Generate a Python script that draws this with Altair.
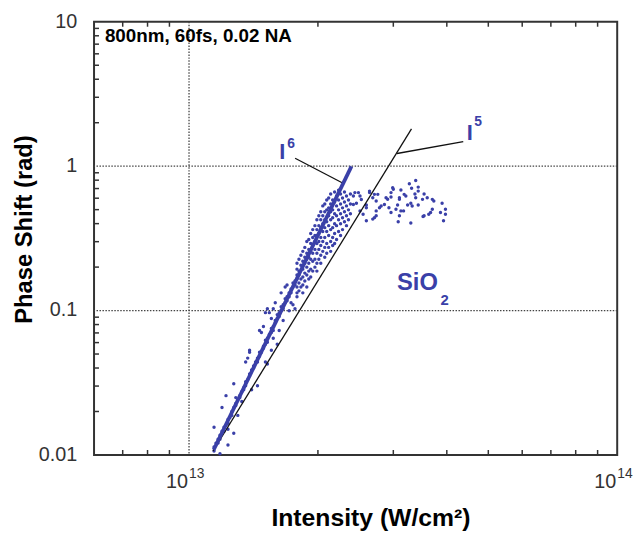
import altair as alt
import pandas as pd

FONT = "Liberation Sans"
BLUE = "#3a40a8"
AXC = "#333333"

# ---------------- data (intensity in units of 1e13 W/cm^2, phase in rad) ----------------
band_intensity = [
    1.144, 1.144, 1.156, 1.169, 1.169, 1.181, 1.181, 1.194, 1.207, 1.207, 1.220, 1.233, 1.233, 1.246,
    1.259, 1.259, 1.272, 1.286, 1.286, 1.300, 1.314, 1.314, 1.328, 1.342, 1.342, 1.356, 1.356, 1.371,
    1.385, 1.385, 1.400, 1.415, 1.415, 1.430, 1.445, 1.445,
    1.144, 1.181, 1.194, 1.220, 1.233, 1.272, 1.272, 1.300, 1.328, 1.356, 1.385, 1.233, 1.400, 1.445,
    1.286, 1.371, 1.385,
    1.461, 1.461, 1.476, 1.492, 1.492, 1.508, 1.508, 1.524, 1.524, 1.540, 1.557, 1.557, 1.573, 1.573,
    1.590, 1.590, 1.607, 1.607, 1.624, 1.624, 1.641, 1.641, 1.659, 1.659, 1.677, 1.677, 1.694, 1.694,
    1.713, 1.713, 1.731, 1.731, 1.749, 1.749, 1.768, 1.768, 1.787, 1.787,
    1.461, 1.476, 1.492, 1.508, 1.524, 1.540, 1.557, 1.573, 1.557, 1.508, 1.524, 1.607, 1.624, 1.641,
    1.659, 1.677, 1.694, 1.713, 1.731, 1.749, 1.768, 1.787, 1.590, 1.573,
    1.787, 1.787, 1.787, 1.787,
    1.806, 1.806, 1.806, 1.806, 1.806,
    1.825, 1.825, 1.825, 1.825,
    1.844, 1.844, 1.844, 1.844, 1.844, 1.844,
    1.864, 1.864, 1.864, 1.864, 1.864,
    1.884, 1.884, 1.884, 1.884, 1.884, 1.884,
    1.904, 1.904, 1.904, 1.904, 1.904, 1.904,
    1.924, 1.924, 1.924, 1.924, 1.924, 1.924,
    1.945, 1.945, 1.945, 1.945, 1.945, 1.945,
    1.968, 1.968, 1.968, 1.968, 1.968, 1.968,
    1.989, 1.989, 1.989, 1.989, 1.989, 1.989, 1.989,
    2.010, 2.010, 2.010, 2.010, 2.010, 2.010,
    2.031, 2.031, 2.031, 2.031, 2.031, 2.031, 2.031,
    2.053, 2.053, 2.053, 2.053, 2.053, 2.053,
    2.075, 2.075, 2.075, 2.075, 2.075, 2.075, 2.075,
    2.097, 2.097, 2.097, 2.097, 2.097, 2.097,
    2.119, 2.119, 2.119, 2.119, 2.119, 2.119,
    2.142, 2.142, 2.142, 2.142, 2.142, 2.142, 2.142,
    2.165, 2.165, 2.165, 2.165, 2.165, 2.165,
    2.188, 2.188, 2.188, 2.188, 2.188, 2.188,
    2.211, 2.211, 2.211, 2.211, 2.211,
    2.235, 2.235, 2.235, 2.235, 2.235,
    2.259, 2.259, 2.259, 2.259, 2.259,
    2.283, 2.283, 2.283, 2.283,
    2.307, 2.307, 2.307, 2.307,
    2.332, 2.332, 2.332, 2.332,
    2.357, 2.357, 2.357,
    2.382, 2.382, 2.382,
]
band_phase = [
    0.01134, 0.01065, 0.01208, 0.01287, 0.01208, 0.01370, 0.01287, 0.01460, 0.01555, 0.01460, 0.01605,
    0.01764, 0.01656, 0.01820, 0.02001, 0.01879, 0.02131, 0.02270, 0.02199, 0.02417, 0.02575, 0.02495,
    0.02742, 0.02921, 0.02830, 0.03210, 0.03014, 0.03313, 0.03529, 0.03642, 0.03879, 0.04003, 0.04130,
    0.04399, 0.04685, 0.04399,
    0.01555, 0.0102, 0.02131, 0.02575, 0.01507, 0.01414, 0.03111, 0.01879, 0.02342, 0.04399, 0.05150,
    0.01171, 0.02830, 0.03014, 0.02495, 0.04685, 0.05315,
    0.04835, 0.05150, 0.05150, 0.05485, 0.05660, 0.05842, 0.06223, 0.06422, 0.06029, 0.06839, 0.07058,
    0.07518, 0.07759, 0.07285, 0.08264, 0.08529, 0.08802, 0.09374, 0.09083, 0.09674, 0.09984, 0.1063,
    0.1097, 0.1030, 0.1133, 0.1206, 0.1245, 0.1169, 0.1326, 0.1245, 0.1412, 0.1326, 0.1458, 0.1552,
    0.1602, 0.1504, 0.1653, 0.1761,
    0.07285, 0.07058, 0.07759, 0.09674, 0.1030, 0.09674, 0.08802, 0.06422, 0.05315, 0.04399, 0.04263,
    0.05842, 0.07285, 0.1326, 0.08529, 0.1458, 0.1504, 0.09984, 0.1133, 0.1097, 0.1030, 0.1245,
    0.1133, 0.1030,
    0.2128, 0.1936, 0.1458, 0.1326,
    0.2266, 0.1876, 0.1761, 0.1552, 0.1369,
    0.2414, 0.2062, 0.1653, 0.1458,
    0.2571, 0.2196, 0.1936, 0.1706, 0.1504, 0.1326,
    0.2738, 0.2339, 0.2128, 0.1817, 0.1602,
    0.3010, 0.2491, 0.2266, 0.1998, 0.1761, 0.1458,
    0.3106, 0.2653, 0.2339, 0.2128, 0.1876, 0.1653,
    0.3414, 0.2916, 0.2571, 0.2266, 0.1936, 0.1706,
    0.3636, 0.3206, 0.2826, 0.2491, 0.2196, 0.1876,
    0.3873, 0.3308, 0.3010, 0.2653, 0.2266, 0.1998,
    0.4257, 0.3636, 0.3308, 0.2916, 0.2491, 0.2128, 0.1876,
    0.4534, 0.3873, 0.3414, 0.3010, 0.2653, 0.2266,
    0.4829, 0.4257, 0.3753, 0.3206, 0.2826, 0.2414, 0.2128,
    0.5307, 0.4534, 0.3997, 0.3524, 0.3010, 0.2571,
    0.5477, 0.4829, 0.4257, 0.3753, 0.3206, 0.2738, 0.2339,
    0.5833, 0.4983, 0.4125, 0.3524, 0.2916, 0.2491,
    0.6020, 0.5143, 0.4534, 0.3873, 0.3308, 0.2738,
    0.6412, 0.5477, 0.4829, 0.4257, 0.3636, 0.3010, 0.2571,
    0.5833, 0.4983, 0.4393, 0.3753, 0.3206, 0.2826,
    0.6617, 0.5652, 0.4679, 0.3997, 0.3414, 0.2916,
    0.6213, 0.5307, 0.4534, 0.3873, 0.3106,
    0.6829, 0.5833, 0.4983, 0.4257, 0.3524,
    0.6412, 0.5477, 0.4679, 0.3997, 0.3308,
    0.6020, 0.5143, 0.4393, 0.3636,
    0.6617, 0.5652, 0.4829, 0.4125,
    0.6213, 0.5307, 0.4534, 0.3873,
    0.5833, 0.4983, 0.4257,
    0.6412, 0.5477, 0.4679,
]
plateau_intensity = [
    2.420, 2.487, 2.508, 2.526, 2.460, 2.595, 2.640, 2.686, 2.736, 2.760, 2.785, 2.860, 2.910, 2.550,
    2.595, 2.710, 2.736, 2.508, 2.420, 3.384, 3.270, 3.430, 3.310, 3.125, 2.990, 3.370, 3.209, 3.100,
    2.963, 3.540, 3.510, 3.700, 3.600, 3.900, 3.430, 3.296, 3.240, 3.043, 2.930, 2.963, 3.125, 3.100,
    3.971, 3.866, 3.971, 3.666, 3.540, 3.296, 3.930, 3.080, 2.686, 3.630, 3.520, 3.000, 2.440, 2.640,
    2.710, 2.595, 2.810, 2.885, 2.963, 3.100, 3.180, 3.070, 3.170, 3.320, 3.384, 3.430, 3.730, 3.700,
    2.736,
]
plateau_phase = [
    0.621, 0.656, 0.621, 0.588, 0.553, 0.539, 0.656, 0.604, 0.574, 0.638, 0.516, 0.543, 0.590, 0.465,
    0.419, 0.440, 0.490, 0.490, 0.543, 0.795, 0.755, 0.716, 0.703, 0.683, 0.710, 0.641, 0.621, 0.604,
    0.611, 0.641, 0.589, 0.589, 0.604, 0.553, 0.539, 0.553, 0.539, 0.503, 0.516, 0.478, 0.490, 0.453,
    0.503, 0.478, 0.465, 0.478, 0.453, 0.404, 0.419, 0.412, 0.430, 0.465, 0.448, 0.692, 0.656, 0.672,
    0.638, 0.516, 0.530, 0.604, 0.656, 0.589, 0.638, 0.539, 0.490, 0.530, 0.604, 0.672, 0.574, 0.503,
    0.453,
]

# fitted power-law guide lines (endpoints)
i6_x = [1.142e13, 2.395e13]
i6_y = [0.01087, 0.997]
i5_x = [1.138e13, 3.308e13]
i5_y = [0.01065, 1.814]
leader6_x = [1.769e13, 2.284e13]
leader6_y = [1.134, 0.765]
leader5_x = [4.37e13, 3.06e13]
leader5_y = [1.479, 1.224]

# axes
x_minor = [7e12, 8e12, 9e12, 2e13, 3e13, 4e13, 5e13, 6e13, 7e13, 8e13, 9e13]
y_minor = [0.02, 0.03, 0.04, 0.05, 0.06, 0.07, 0.08, 0.09,
           0.2, 0.3, 0.4, 0.5, 0.6, 0.7, 0.8, 0.9,
           2, 3, 4, 5, 6, 7, 8, 9]
x_grid = [1e13]
y_grid = [0.1, 1]
y_label_values = [0.01, 0.1, 1, 10]
y_label_text = ["0.01", "0.1", "1", "10"]
x_label_values = [1e13, 1e14]
x_label_base = ["10", "10"]
x_label_exp = ["13", "14"]
x_title = "Intensity (W/cm²)"
y_title = "Phase Shift (rad)"

# annotations
blue_text = ["I", "6", "I", "5", "SiO", "2"]
blue_x = [1.651e13, 1.696e13, 4.523e13, 4.633e13, 3.06e13, 3.866e13]
blue_y = [1.113, 1.345, 1.526, 1.903, 0.139, 0.1097]
blue_fs = [22, 14, 22, 14, 24, 15]
blue_align = ["center", "left", "center", "left", "left", "left"]

# ---------------- chart ----------------
W, H = 529, 438
xs = alt.Scale(type="log", domain=[6e12, 1e14], nice=False)
ys = alt.Scale(type="log", domain=[0.01, 10], nice=False)


def X(f):
    return alt.X(f, scale=xs, axis=None)


def Y(f):
    return alt.Y(f, scale=ys, axis=None)


pts = pd.DataFrame({
    "I": [v * 1e13 for v in band_intensity + plateau_intensity],
    "phi": band_phase + plateau_phase,
})

scatter = alt.Chart(pts).mark_circle(size=12, color=BLUE, opacity=1).encode(
    x=X("I:Q"), y=Y("phi:Q"))

grid_x = alt.Chart(pd.DataFrame({"x": x_grid})).mark_rule(
    color="#444", strokeWidth=1.3, strokeDash=[1.5, 1.5]).encode(x=X("x:Q"))
grid_y = alt.Chart(pd.DataFrame({"y": y_grid})).mark_rule(
    color="#444", strokeWidth=1.3, strokeDash=[1.5, 1.5]).encode(y=Y("y:Q"))


def seg(xv, yv, color, width):
    return alt.Chart(pd.DataFrame({"x": xv, "y": yv})).mark_line(
        color=color, strokeWidth=width).encode(x=X("x:Q"), y=Y("y:Q"))


line5 = seg(i5_x, i5_y, "#111", 1.3)
lead5 = seg(leader5_x, leader5_y, "#111", 1.3)
lead6 = seg(leader6_x, leader6_y, "#111", 1.3)
line6 = seg(i6_x, i6_y, BLUE, 3.8)

tick_bottom = alt.Chart(pd.DataFrame({"x": x_minor})).mark_rule(color=AXC, strokeWidth=1.5).encode(
    x=X("x:Q"), y=alt.value(H), y2=alt.value(H - 5))
tick_top = alt.Chart(pd.DataFrame({"x": x_minor})).mark_rule(color=AXC, strokeWidth=1.5).encode(
    x=X("x:Q"), y=alt.value(0), y2=alt.value(5))
tick_left = alt.Chart(pd.DataFrame({"y": y_minor})).mark_rule(color=AXC, strokeWidth=1.5).encode(
    y=Y("y:Q"), x=alt.value(0), x2=alt.value(5))

ylab = alt.Chart(pd.DataFrame({"y": y_label_values, "t": y_label_text})).mark_text(
    align="right", baseline="middle", font=FONT, fontSize=20, color=AXC
).encode(y=Y("y:Q"), x=alt.value(-17), text="t:N")

xl = pd.DataFrame({"x": x_label_values, "base": x_label_base, "exp": x_label_exp})
xlab_base = alt.Chart(xl).mark_text(
    align="right", baseline="alphabetic", font=FONT, fontSize=20, color=AXC, dx=-1
).encode(x=X("x:Q"), y=alt.value(471), text="base:N")
xlab_exp = alt.Chart(xl).mark_text(
    align="left", baseline="alphabetic", font=FONT, fontSize=14, color=AXC, dx=0
).encode(x=X("x:Q"), y=alt.value(461), text="exp:N")

xtitle = alt.Chart(pd.DataFrame({"t": [x_title]})).mark_text(
    align="center", baseline="alphabetic", font=FONT, fontSize=25, fontWeight="bold", color="black"
).encode(x=alt.value(280), y=alt.value(510), text="t:N")
ytitle = alt.Chart(pd.DataFrame({"t": [y_title]})).mark_text(
    align="center", baseline="alphabetic", font=FONT, fontSize=24, fontWeight="bold", color="black",
    angle=270
).encode(x=alt.value(-63), y=alt.value(210), text="t:N")

bt = pd.DataFrame({"t": blue_text, "x": blue_x, "y": blue_y, "fs": blue_fs, "al": blue_align})
blue_left = alt.Chart(bt).transform_filter("datum.al == 'left'").mark_text(
    align="left", baseline="alphabetic", font=FONT, fontWeight="bold", color=BLUE
).encode(x=X("x:Q"), y=Y("y:Q"), text="t:N", size=alt.Size("fs:Q", scale=None, legend=None))
blue_center = alt.Chart(bt).transform_filter("datum.al == 'center'").mark_text(
    align="center", baseline="alphabetic", font=FONT, fontWeight="bold", color=BLUE
).encode(x=X("x:Q"), y=Y("y:Q"), text="t:N", size=alt.Size("fs:Q", scale=None, legend=None))

note = alt.Chart(pd.DataFrame({"t": ["800nm, 60fs, 0.02 NA"]})).mark_text(
    align="left", baseline="alphabetic", font=FONT, fontWeight="bold", fontSize=19, color="black"
).encode(x=alt.value(11), y=alt.value(20), text="t:N")

chart = alt.layer(
    grid_x, grid_y, scatter, line5, lead5, lead6, line6,
    tick_bottom, tick_top, tick_left, ylab, xlab_base, xlab_exp, xtitle, ytitle,
    blue_left, blue_center, note,
).properties(
    width=W, height=H,
    autosize=alt.AutoSizeParams(type="none"),
    padding={"left": 87, "top": 11, "right": 18, "bottom": 78},
).configure_view(stroke=AXC, strokeWidth=2)

chart.save("out.html", embed_options={"renderer": "svg", "actions": False})
